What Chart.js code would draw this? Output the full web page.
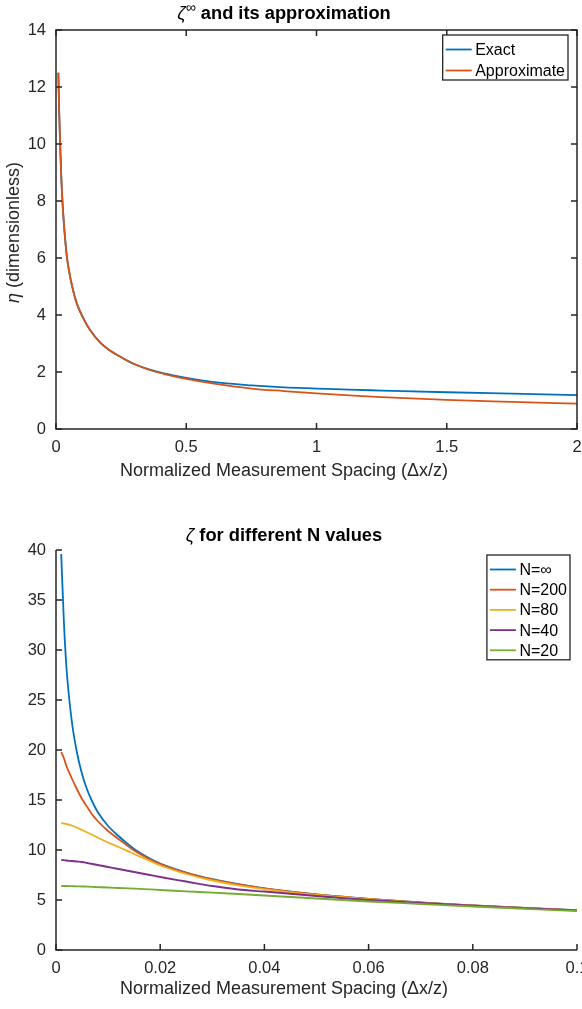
<!DOCTYPE html>
<html>
<head>
<meta charset="utf-8">
<script src="https://cdn.jsdelivr.net/npm/chart.js@4.4.1/dist/chart.umd.min.js"></script>
<style>
  html, body { margin: 0; padding: 0; overflow: hidden; background: #fff; width: 582px; height: 1009px; }
  canvas { display: block; }
</style>
</head>
<body>
<canvas id="top-chart" width="600" height="500"></canvas>
<canvas id="bottom-chart" width="600" height="509"></canvas>
<script>
// ---- top chart: zeta infinity vs its approximation ----
const spacingTop = [0.009, 0.012, 0.016, 0.02, 0.026, 0.033, 0.041, 0.05, 0.066, 0.08, 0.105, 0.13, 0.17, 0.2,
    0.25, 0.3, 0.36, 0.42, 0.5, 0.6, 0.75, 0.875, 1.0, 1.125, 1.25, 1.5, 1.75, 2.0]
const exactTop = [12.5, 11.2, 10.0, 8.9, 7.8, 6.9, 6.1, 5.55, 4.85, 4.4, 3.88, 3.48, 3.03, 2.8,
    2.52, 2.28, 2.08, 1.94, 1.79, 1.65, 1.53, 1.46, 1.42, 1.38, 1.35, 1.29, 1.24, 1.19]
const approxTop = [12.5, 11.2, 10.0, 8.9, 7.8, 6.9, 6.1, 5.55, 4.85, 4.4, 3.88, 3.48, 3.03, 2.8,
    2.52, 2.28, 2.07, 1.92, 1.76, 1.6, 1.42, 1.33, 1.25, 1.18, 1.12, 1.02, 0.95, 0.89]
const xTicksTop = [0, 0.5, 1, 1.5, 2]
const yTicksTop = [0, 2, 4, 6, 8, 10, 12, 14]

// ---- bottom chart: zeta for different N ----
const spacingBottom = [0.001, 0.0015, 0.002, 0.003, 0.004, 0.005, 0.006, 0.007, 0.008, 0.01, 0.012, 0.015,
    0.018, 0.02, 0.025, 0.03, 0.035, 0.04, 0.05, 0.06, 0.07, 0.08, 0.09, 0.1]
const nInf = [39.6, 33.0, 28.3, 23.0, 19.8, 17.6, 16.0, 14.8, 13.8, 12.4, 11.4, 10.1,
    9.15, 8.65, 7.75, 7.08, 6.58, 6.17, 5.57, 5.12, 4.75, 4.46, 4.2, 3.98]
const n200 = [19.8, 19.2, 18.4, 17.2, 16.1, 15.1, 14.3, 13.5, 12.9, 11.9, 11.1, 9.95,
    9.07, 8.6, 7.72, 7.06, 6.56, 6.16, 5.56, 5.11, 4.74, 4.45, 4.2, 3.97]
const n80 = [12.7, 12.65, 12.6, 12.45, 12.25, 12.0, 11.75, 11.5, 11.25, 10.75, 10.3, 9.6,
    8.9, 8.45, 7.6, 6.95, 6.47, 6.08, 5.5, 5.08, 4.72, 4.44, 4.19, 3.97]
const n40 = [9.0, 8.98, 8.95, 8.9, 8.85, 8.8, 8.7, 8.6, 8.5, 8.3, 8.1, 7.8,
    7.5, 7.3, 6.85, 6.4, 6.05, 5.85, 5.4, 5.0, 4.7, 4.43, 4.18, 3.96]
const n20 = [6.4, 6.4, 6.4, 6.38, 6.37, 6.35, 6.33, 6.31, 6.29, 6.25, 6.2, 6.13,
    6.06, 6.0, 5.87, 5.73, 5.6, 5.45, 5.15, 4.85, 4.6, 4.35, 4.12, 3.9]
const xTicksBottom = [0, 0.02, 0.04, 0.06, 0.08, 0.1]
const yTicksBottom = [0, 5, 10, 15, 20, 25, 30, 35, 40]

const FONT = '"Liberation Sans", Arial, Helvetica, sans-serif'
const AXIS_COLOR = '#262626'
const COLORS = ['#0072BD', '#D95319', '#EDB120', '#7E2F8E', '#77AC30']

function toPoints(xs, ys) {
    return xs.map((x, i) => ({ x: x, y: ys[i] }))
}

// later series are drawn on top, like matlab does
function line(label, xs, ys, color, order) {
    return {
        label: label,
        data: toPoints(xs, ys),
        borderColor: color,
        backgroundColor: color,
        borderWidth: 1.8,
        pointRadius: 0,
        cubicInterpolationMode: 'monotone',
        fill: false,
        order: order
    }
}

// draws a line of text made of pieces with their own fonts, centered on cx
function drawPieces(ctx, pieces, cx, cy) {
    let total = 0
    pieces.forEach(p => { ctx.font = p.font; p.w = ctx.measureText(p.text).width; total += p.w })
    let x = cx - total / 2
    ctx.textAlign = 'left'
    ctx.textBaseline = 'middle'
    pieces.forEach(p => {
        ctx.font = p.font
        ctx.fillText(p.text, x, cy + (p.dy || 0))
        x += p.w
    })
}

const matlabFrame = {
    id: 'matlabFrame',
    afterDatasetsDraw(chart, args, opts) {
        const { ctx, chartArea: a, scales: { x, y } } = chart
        ctx.save()
        ctx.strokeStyle = AXIS_COLOR
        ctx.fillStyle = AXIS_COLOR
        ctx.lineWidth = 1.5

        // inward ticks
        ctx.beginPath()
        x.ticks.forEach(t => {
            const px = x.getPixelForValue(t.value)
            ctx.moveTo(px, a.bottom); ctx.lineTo(px, a.bottom - 6)
            if (opts.box) { ctx.moveTo(px, a.top); ctx.lineTo(px, a.top + 6) }
        })
        y.ticks.forEach(t => {
            const py = y.getPixelForValue(t.value)
            ctx.moveTo(a.left, py); ctx.lineTo(a.left + 6, py)
            if (opts.box) { ctx.moveTo(a.right, py); ctx.lineTo(a.right - 6, py) }
        })
        ctx.stroke()

        // axis lines
        ctx.beginPath()
        if (opts.box) {
            ctx.rect(a.left, a.top, a.right - a.left, a.bottom - a.top)
        } else {
            ctx.moveTo(a.left, a.top); ctx.lineTo(a.left, a.bottom); ctx.lineTo(a.right, a.bottom)
        }
        ctx.stroke()

        // legend box
        const lg = opts.legend
        const sets = chart.data.datasets
        ctx.font = lg.font
        const textW = Math.max(...sets.map(d => ctx.measureText(d.label).width))
        const boxW = 3 + 26 + 3.5 + textW + 3
        const boxH = 14.5 + lg.rowH * (sets.length - 1) + 9.5
        const bx = a.right - lg.right - boxW
        const by = a.top + lg.top
        ctx.fillStyle = '#fff'
        ctx.fillRect(bx, by, boxW, boxH)
        ctx.lineWidth = 1.3
        ctx.strokeStyle = AXIS_COLOR
        ctx.strokeRect(bx, by, boxW, boxH)
        ctx.textAlign = 'left'
        ctx.textBaseline = 'middle'
        sets.forEach((d, i) => {
            const cy = by + 14.5 + lg.rowH * i
            ctx.strokeStyle = d.borderColor
            ctx.lineWidth = 1.8
            ctx.beginPath()
            ctx.moveTo(bx + 3, cy); ctx.lineTo(bx + 29, cy)
            ctx.stroke()
            ctx.fillStyle = '#000'
            ctx.fillText(d.label, bx + 32.5, cy + 1)
        })

        // title and axis labels
        ctx.fillStyle = '#000'
        drawPieces(ctx, opts.title, opts.centerX, opts.titleY)
        ctx.fillStyle = AXIS_COLOR
        drawPieces(ctx, [{ text: opts.xLabel, font: '18px ' + FONT }], opts.centerX, a.bottom + opts.xLabelGap)
        if (opts.yLabel) {
            ctx.save()
            ctx.translate(14, (a.top + a.bottom) / 2 + 3)
            ctx.rotate(-Math.PI / 2)
            drawPieces(ctx, opts.yLabel, 0, 0)
            ctx.restore()
        }
        ctx.restore()
    }
}

function axes(xTicks, yTicks, xMin, xMax, yMin, yMax, xHeight) {
    const tickFont = { family: FONT, size: 16.5 }
    return {
        x: {
            type: 'linear', min: xMin, max: xMax,
            grid: { display: false, drawTicks: false }, border: { display: false },
            afterBuildTicks: s => { s.ticks = xTicks.map(v => ({ value: v })) },
            afterFit: s => { s.height = xHeight },
            ticks: { autoSkip: false, maxRotation: 0, padding: 9, color: AXIS_COLOR, font: tickFont, callback: v => String(v) }
        },
        y: {
            type: 'linear', min: yMin, max: yMax,
            grid: { display: false, drawTicks: false }, border: { display: false },
            afterBuildTicks: s => { s.ticks = yTicks.map(v => ({ value: v })) },
            afterFit: s => { s.width = 56 },
            ticks: { autoSkip: false, padding: 10, color: AXIS_COLOR, font: tickFont, callback: v => String(v) }
        }
    }
}

const xLabel = 'Normalized Measurement Spacing (\u0394x/z)'

new Chart(document.getElementById('top-chart'), {
    type: 'line',
    data: {
        datasets: [
            line('Exact', spacingTop, exactTop, COLORS[0], 2),
            line('Approximate', spacingTop, approxTop, COLORS[1], 1)
        ]
    },
    options: {
        responsive: false,
        animation: false,
        events: [],
        layout: { padding: { top: 30, right: 23, left: 0, bottom: 0 } },
        scales: axes(xTicksTop, yTicksTop, 0, 2, 0, 14, 71),
        plugins: {
            legend: { display: false },
            tooltip: { enabled: false },
            matlabFrame: {
                box: true,
                centerX: 284,
                titleY: 14,
                title: [
                    { text: '\u03b6', font: 'italic 18.3px ' + FONT },
                    { text: '\u221e', font: '14px ' + FONT, dy: -6 },
                    { text: ' and its approximation', font: 'bold 18.3px ' + FONT }
                ],
                xLabel: xLabel,
                xLabelGap: 42,
                yLabel: [
                    { text: '\u03b7', font: 'italic 18px ' + FONT },
                    { text: ' (dimensionless)', font: '18px ' + FONT }
                ],
                legend: { right: 9, top: 5, rowH: 21, font: '16px ' + FONT }
            }
        }
    },
    plugins: [matlabFrame]
})

new Chart(document.getElementById('bottom-chart'), {
    type: 'line',
    data: {
        datasets: [
            line('N=\u221e', spacingBottom, nInf, COLORS[0], 5),
            line('N=200', spacingBottom, n200, COLORS[1], 4),
            line('N=80', spacingBottom, n80, COLORS[2], 3),
            line('N=40', spacingBottom, n40, COLORS[3], 2),
            line('N=20', spacingBottom, n20, COLORS[4], 1)
        ]
    },
    options: {
        responsive: false,
        animation: false,
        events: [],
        layout: { padding: { top: 50, right: 23, left: 0, bottom: 0 } },
        scales: axes(xTicksBottom, yTicksBottom, 0, 0.1, 0, 40, 59),
        plugins: {
            legend: { display: false },
            tooltip: { enabled: false },
            matlabFrame: {
                box: false,
                centerX: 284,
                titleY: 36,
                title: [
                    { text: '\u03b6', font: 'italic 18.3px ' + FONT },
                    { text: ' for different N values', font: 'bold 18.3px ' + FONT }
                ],
                xLabel: xLabel,
                xLabelGap: 39,
                legend: { right: 7, top: 5, rowH: 20.2, font: '16px ' + FONT }
            }
        }
    },
    plugins: [matlabFrame]
})
</script>
</body>
</html>
